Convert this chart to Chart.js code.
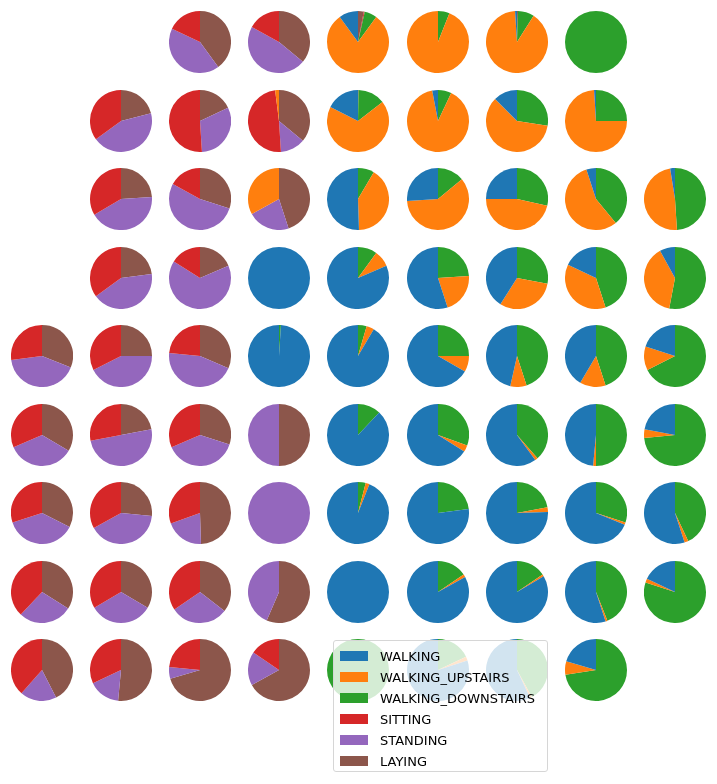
<!DOCTYPE html>
<html><head><meta charset="utf-8">
<script src="https://cdn.jsdelivr.net/npm/chart.js@4"></script>
<style>
body{margin:0;width:717px;height:784px;background:#fff;position:relative;overflow:hidden;font-family:"DejaVu Sans",sans-serif}
.cell{position:absolute;width:62px;height:62px}
#legend{position:absolute;left:333px;top:640px;width:215px;height:132px;background:rgba(255,255,255,0.8);border:1px solid #d6d6d6;border-radius:3px;z-index:5;box-sizing:border-box}
.item{position:absolute;left:6px;height:14px;font-size:13px;line-height:14px;color:#000;white-space:nowrap}
.sw{display:inline-block;width:28px;height:10px;vertical-align:middle;margin-right:12px;margin-top:-3px}
</style></head><body>
<div id="legend"></div>
<script>
const categories=["WALKING","WALKING_UPSTAIRS","WALKING_DOWNSTAIRS","SITTING","STANDING","LAYING"];
const colors=["#1f77b4","#ff7f0e","#2ca02c","#d62728","#9467bd","#8c564b"];
const n=null;
const walking=[
[n,n,0,0,.10,0,.01,0,n],
[n,0,0,0,.175,.03,.125,.01,n],
[n,0,0,0,.505,.26,.25,.05,.025],
[n,0,0,1,.815,.55,.41,.18,.08],
[0,0,0,.99,.915,.667,.465,.415,.2],
[0,0,0,0,.88,.66,.60,.485,.22],
[0,0,0,0,.94,.77,.755,.69,.55],
[0,0,0,0,1,.83,.835,.55,.18],
[0,0,0,0,0,.8,.57,.205,n]];
const upstairs=[
[n,n,0,0,.80,.94,.90,0,n],
[n,0,0,.02,.68,.90,.60,.74,n],
[n,0,0,.33,.41,.60,.465,.56,.485],
[n,0,0,0,.085,.21,.31,.37,.39],
[0,0,0,0,.04,.083,.085,.135,.125],
[0,0,0,0,0,.035,.015,.015,.045],
[0,0,0,0,.02,0,.025,.012,.02],
[0,0,0,0,0,.015,.01,.01,.02],
[0,0,0,0,0,.02,.01,.07,n]];
const downstairs=[
[n,n,0,0,.065,.06,.085,1,n],
[n,0,0,0,.142,.07,.275,.25,n],
[n,0,0,0,.085,.14,.285,.39,.49],
[n,0,0,0,.10,.24,.28,.45,.53],
[0,0,0,.01,.045,.25,.45,.45,.675],
[0,0,0,0,.12,.305,.385,.50,.735],
[0,0,0,0,.04,.23,.22,.30,.43],
[0,0,0,0,0,.155,.155,.44,.80],
[0,0,0,0,1,.18,.42,.725,n]];
const sitting=[
[n,n,.18,.17,.005,0,0,0,n],
[n,.35,.51,.49,0,0,0,0,n],
[n,.335,.17,0,0,0,0,0,0],
[n,.35,.16,0,0,0,0,0,0],
[.27,.325,.235,0,0,0,0,0,0],
[.315,.28,.315,0,0,0,0,0,0],
[.30,.33,.305,0,0,0,0,0,0],
[.38,.335,.345,0,0,0,0,0,0],
[.385,.32,.235,.155,0,0,0,0,n]];
const standing=[
[n,n,.42,.47,0,0,0,0,n],
[n,.44,.31,.13,0,0,0,0,n],
[n,.425,.53,.22,0,0,0,0,0],
[n,.42,.655,0,0,0,0,0,0],
[.42,.425,.45,0,0,0,0,0,0],
[.35,.5,.385,.5,0,0,0,0,0],
[.375,.405,.20,1,0,0,0,0,0],
[.28,.33,.30,.435,0,0,0,0,0],
[.19,.165,.06,.175,0,0,0,0,n]];
const laying=[
[n,n,.40,.36,.03,0,.005,0,n],
[n,.21,.18,.36,.003,0,0,0,n],
[n,.24,.30,.45,0,0,0,0,0],
[n,.23,.185,0,0,0,0,0,0],
[.31,.25,.315,0,0,0,0,0,0],
[.335,.22,.30,.5,0,0,0,0,0],
[.325,.265,.495,0,0,0,0,0,0],
[.34,.335,.355,.565,0,0,0,0,0],
[.425,.515,.705,.67,0,0,0,0,n]];
const series=[walking,upstairs,downstairs,sitting,standing,laying];

for(let r=0;r<9;r++){for(let c=0;c<9;c++){
  if(walking[r][c]===null) continue;
  const cv=document.createElement('canvas');
  cv.className='cell';
  cv.style.left=(42+79.1*c-31)+'px';
  cv.style.top=(42+78.5*r-31)+'px';
  document.body.appendChild(cv);
  const vals=series.map(s=>s[r][c]);
  // matplotlib draws counter-clockwise from the top; Chart.js draws clockwise, so reverse order
  new Chart(cv,{type:'pie',data:{labels:categories.slice().reverse(),
    datasets:[{data:vals.slice().reverse(),backgroundColor:colors.slice().reverse(),borderWidth:0}]},
    options:{responsive:false,animation:false,events:[],layout:{padding:0},
      plugins:{legend:{display:false},tooltip:{enabled:false}}}});
}}
const lg=document.getElementById('legend');
categories.forEach((k,i)=>{
  const d=document.createElement('div');d.className='item';d.style.top=(9+21*i)+'px';
  d.innerHTML='<span class="sw" style="background:'+colors[i]+'"></span>'+k;lg.appendChild(d);
});
</script></body></html>
